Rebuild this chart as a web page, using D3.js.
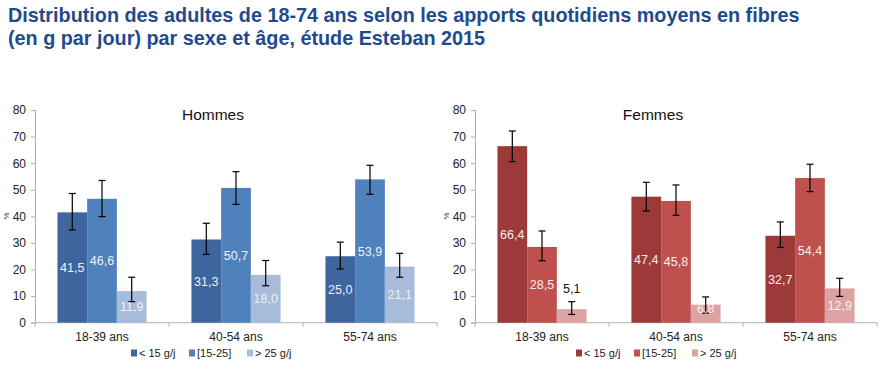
<!DOCTYPE html>
<html>
<head>
<meta charset="utf-8">
<script src="https://cdn.jsdelivr.net/npm/d3@7"></script>
<style>
  body { margin: 0; background: #fff; }
  svg { font-family: "Liberation Sans", Arial, sans-serif; }
</style>
</head>
<body>
<div id="chart"></div>
<script>
// categories and series
var ageGroups = ["18-39 ans", "40-54 ans", "55-74 ans"];
var seriesNames = ["< 15 g/j", "[15-25]", "> 25 g/j"];
var yTicks = [0, 10, 20, 30, 40, 50, 60, 70, 80];

// Hommes values (%), by series then age group
var hommesLow = [41.5, 31.3, 25.0];
var hommesMid = [46.6, 50.7, 53.9];
var hommesHigh = [11.9, 18.0, 21.1];
// confidence intervals [lo, hi]
var hommesLowCI = [[34.9, 48.6], [25.7, 37.4], [20.2, 30.3]];
var hommesMidCI = [[39.9, 53.5], [44.5, 56.8], [48.3, 59.2]];
var hommesHighCI = [[7.9, 17.1], [13.9, 23.4], [17.1, 26.1]];

// Femmes values (%)
var femmesLow = [66.4, 47.4, 32.7];
var femmesMid = [28.5, 45.8, 54.4];
var femmesHigh = [5.1, 6.8, 12.9];
var femmesLowCI = [[60.6, 72.1], [42.0, 52.8], [28.3, 37.9]];
var femmesMidCI = [[23.3, 34.5], [40.4, 51.8], [49.3, 59.6]];
var femmesHighCI = [[3.1, 7.9], [3.6, 9.7], [9.9, 16.7]];

var hommesColors = ["#3E659E", "#4F81BD", "#A7BBDB"];
var femmesColors = ["#9B3A38", "#C0504D", "#DBA3A2"];

var width = 894, height = 391;
var svg = d3.select("#chart").append("svg")
    .attr("width", width)
    .attr("height", height);

// title
var title = svg.append("text")
    .attr("fill", "#1F4B8E")
    .style("font-weight", "bold")
    .style("font-size", "19.8px");
title.append("tspan").attr("x", 8).attr("y", 22)
    .text("Distribution des adultes de 18-74 ans selon les apports quotidiens moyens en fibres");
title.append("tspan").attr("x", 8).attr("y", 45)
    .text("(en g par jour) par sexe et âge, étude Esteban 2015");

var y = d3.scaleLinear().domain([0, 80]).range([322.7, 110]);

function buildRows(vals, cis) {
    return ageGroups.map(function(g, i) {
        return {
            group: g,
            bars: vals.map(function(v, s) {
                return { series: s, value: v[i], ci: cis[s][i] };
            })
        };
    });
}

function drawPanel(opts) {
    var g = svg.append("g");
    var x0 = d3.scaleBand().domain(ageGroups)
        .range([opts.left, opts.right])
        .paddingInner(0.335).paddingOuter(0.1675);
    var x1 = d3.scaleBand().domain(d3.range(3))
        .range([0, x0.bandwidth()]);

    // y axis
    var yAxis = d3.axisLeft(y).tickValues(yTicks).tickSize(4).tickPadding(5);
    var ya = g.append("g").attr("transform", "translate(" + opts.left + ",0)").call(yAxis);
    ya.select(".domain").attr("stroke", "#B0B0B0");
    ya.selectAll(".tick line").attr("stroke", "#B0B0B0");
    ya.selectAll(".tick text").attr("fill", "#222").style("font-size", "12px")
        .style("font-family", "Liberation Sans, Arial, sans-serif");

    g.append("text")
        .attr("transform", "translate(" + (opts.left - 26) + ",216) rotate(-90)")
        .attr("text-anchor", "middle")
        .attr("fill", "#444")
        .style("font-size", "8px")
        .text("%");

    // x axis with ticks at category boundaries
    var xa = g.append("g").attr("transform", "translate(0," + y(0) + ")");
    xa.append("line").attr("x1", opts.left).attr("x2", opts.right)
        .attr("stroke", "#B0B0B0");
    var step = x0.step();
    xa.selectAll(".bound").data(d3.range(ageGroups.length + 1)).enter()
        .append("line")
        .attr("x1", function(d) { return opts.left + d * step; })
        .attr("x2", function(d) { return opts.left + d * step; })
        .attr("y1", 0).attr("y2", 4)
        .attr("stroke", "#B0B0B0");
    xa.selectAll(".cat").data(ageGroups).enter()
        .append("text")
        .attr("x", function(d) { return x0(d) + x0.bandwidth() / 2; })
        .attr("y", 18)
        .attr("text-anchor", "middle")
        .attr("fill", "#222")
        .style("font-size", "12px")
        .text(function(d) { return d; });

    // panel title
    g.append("text")
        .attr("x", opts.titleX).attr("y", 120)
        .attr("text-anchor", "middle")
        .attr("fill", "#111")
        .style("font-size", "15.5px")
        .text(opts.title);

    var rows = buildRows(opts.values, opts.cis);
    var groups = g.selectAll(".grp").data(rows).enter().append("g")
        .attr("transform", function(d) { return "translate(" + x0(d.group) + ",0)"; });

    var bars = groups.selectAll(".bar").data(function(d) { return d.bars; }).enter();

    bars.append("rect")
        .attr("x", function(d) { return x1(d.series); })
        .attr("y", function(d) { return y(d.value); })
        .attr("width", x1.bandwidth())
        .attr("height", function(d) { return y(0) - y(d.value); })
        .attr("fill", function(d) { return opts.colors[d.series]; });

    // error bars
    var eb = groups.selectAll(".eb").data(function(d) { return d.bars; }).enter().append("g")
        .attr("stroke", "#000").attr("stroke-width", 1.2);
    eb.append("line")
        .attr("x1", function(d) { return x1(d.series) + x1.bandwidth() / 2; })
        .attr("x2", function(d) { return x1(d.series) + x1.bandwidth() / 2; })
        .attr("y1", function(d) { return y(d.ci[0]); })
        .attr("y2", function(d) { return y(d.ci[1]); });
    [0, 1].forEach(function(k) {
        eb.append("line")
            .attr("x1", function(d) { return x1(d.series) + x1.bandwidth() / 2 - 3.5; })
            .attr("x2", function(d) { return x1(d.series) + x1.bandwidth() / 2 + 3.5; })
            .attr("y1", function(d) { return y(d.ci[k]); })
            .attr("y2", function(d) { return y(d.ci[k]); });
    });

    // value labels (small bars: label above the error bar)
    groups.selectAll(".lbl").data(function(d) { return d.bars; }).enter().append("text")
        .attr("x", function(d) { return x1(d.series) + x1.bandwidth() / 2; })
        .attr("y", function(d) {
            if (d.value < 6) return y(d.ci[1]) - 9;
            return y(Math.max(d.value / 2, 5.5)) + 4.5;
        })
        .attr("text-anchor", "middle")
        .attr("fill", function(d) { return d.value < 6 ? "#111" : opts.labelColor; })
        .style("font-size", "12.5px")
        .text(function(d) { return d3.format(".1f")(d.value).replace(".", ","); });

    // legend
    var lg = g.selectAll(".leg").data(seriesNames).enter().append("g")
        .attr("transform", function(d, i) { return "translate(" + (opts.legendX + i * 58) + ",353)"; });
    lg.append("rect").attr("x", 0).attr("y", -3.5).attr("width", 6).attr("height", 7)
        .attr("fill", function(d, i) { return opts.colors[i]; });
    lg.append("text").attr("x", 8).attr("y", 4)
        .attr("fill", "#222")
        .style("font-size", "11px")
        .text(function(d) { return d; });
}

drawPanel({
    left: 35, right: 437, titleX: 213, title: "Hommes",
    values: [hommesLow, hommesMid, hommesHigh],
    cis: [hommesLowCI, hommesMidCI, hommesHighCI],
    colors: hommesColors, labelColor: "#EEF2FA", legendX: 131
});
drawPanel({
    left: 475, right: 877, titleX: 653, title: "Femmes",
    values: [femmesLow, femmesMid, femmesHigh],
    cis: [femmesLowCI, femmesMidCI, femmesHighCI],
    colors: femmesColors, labelColor: "#FBEDED", legendX: 576
});
</script>
</body>
</html>
